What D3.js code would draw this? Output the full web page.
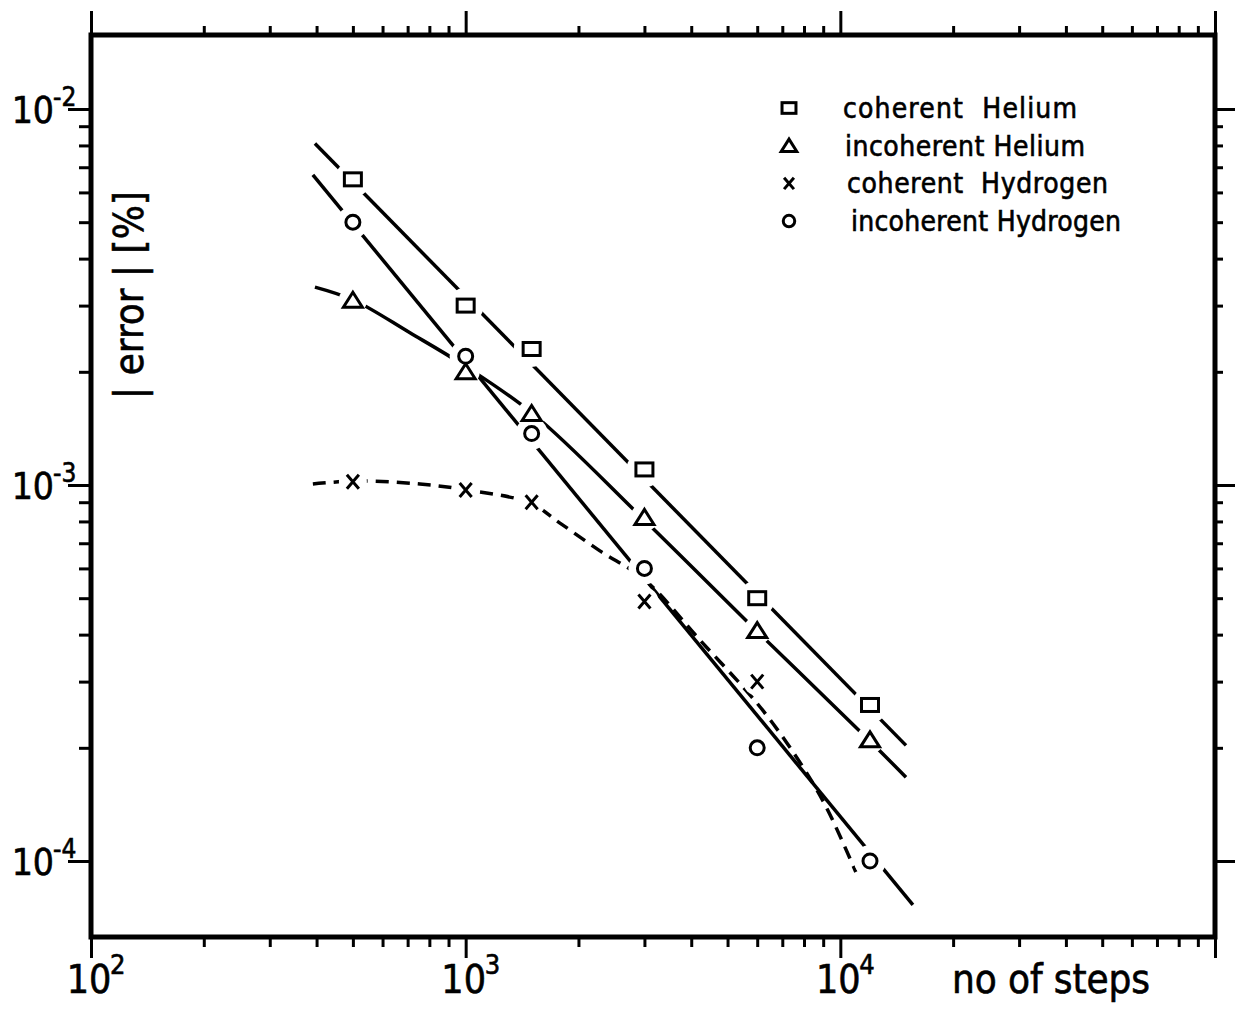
<!DOCTYPE html>
<html>
<head>
<meta charset="utf-8">
<script src="https://cdnjs.cloudflare.com/ajax/libs/d3/7.8.5/d3.min.js"></script>
<style>
  body { margin: 0; background: #fff; }
  svg text { font-family: "DejaVu Sans Condensed", "DejaVu Sans", sans-serif; fill: #000; stroke: #000; stroke-width: 0.6px; white-space: pre; }
</style>
</head>
<body>
<div id="viz"></div>
<script>
// measured points: no of steps vs |error| [%]
var steps = [500, 1000, 1500, 3000, 6000, 12000];
var coherentHelium = [6.5e-3, 3.0e-3, 2.3e-3, 1.1e-3, 5.0e-4, 2.6e-4];
var incoherentHelium = [3.1e-3, 2.0e-3, 1.55e-3, 8.2e-4, 4.1e-4, 2.1e-4];
var coherentHydrogen = [1.02e-3, 9.7e-4, 9.0e-4, 4.9e-4, 3.0e-4];
var incoherentHydrogen = [5.0e-3, 2.2e-3, 1.37e-3, 6.0e-4, 2.0e-4, 1.0e-4];

// hand drawn fit curves
var fitCohHeX = [396, 14970];
var fitCohHeY = [8.1e-3, 2.03e-4];
var fitIncHeX = [396, 503, 710, 990, 1520, 2950, 6030, 12140, 14970];
var fitIncHeY = [3.36e-3, 3.1e-3, 2.54e-3, 2.08e-3, 1.54e-3, 8.2e-4, 4.06e-4, 2.06e-4, 1.67e-4];
var fitCohHX = [391, 513, 755, 1008, 1484, 1785, 2282, 3009, 4220, 5990, 7200, 8450, 9380, 11000];
var fitCohHY = [1.006e-3, 1.025e-3, 1.006e-3, 9.7e-4, 8.96e-4, 7.92e-4, 6.68e-4, 5.59e-4, 3.87e-4, 2.63e-4, 2.06e-4, 1.61e-4, 1.33e-4, 9.35e-5];
var fitIncHX = [391, 15620];
var fitIncHY = [6.68e-3, 7.64e-5];

var legendLabels = ["coherent  Helium", "incoherent Helium", "coherent  Hydrogen", "incoherent Hydrogen"];
var xMajor = [1e2, 1e3, 1e4, 1e5];
var xExponents = ["2", "3", "4"];
var yMajor = [1e-2, 1e-3, 1e-4];
var yExponents = ["-2", "-3", "-4"];
var xTitle = "no of steps";
var yTitle = "| error | [%]";

var width = 1236,
    height = 1012,
    frameL = 91, frameR = 1215, frameT = 35, frameB = 937;

var zip = function(xs, ys) { return ys.map(function(v, i) { return [xs[i], v]; }); };

var series = [
  { name: legendLabels[0], marker: "square", points: zip(steps, coherentHelium), fit: zip(fitCohHeX, fitCohHeY), dash: null },
  { name: legendLabels[1], marker: "triangle", points: zip(steps, incoherentHelium), fit: zip(fitIncHeX, fitIncHeY), dash: null },
  { name: legendLabels[2], marker: "cross", points: zip(steps, coherentHydrogen), fit: zip(fitCohHX, fitCohHY), dash: "13,8" },
  { name: legendLabels[3], marker: "circle", points: zip(steps, incoherentHydrogen), fit: zip(fitIncHX, fitIncHY), dash: null }
];

var x = d3.scaleLog()
  .domain([1e2, 1e5])
  .range([frameL, frameR]);

var y = d3.scaleLog()
  .domain([Math.pow(10, -4.2021), Math.pow(10, -1.8032)])
  .range([frameB, frameT]);

// minor ticks 2..9 in each decade
function minors(lo, hi) {
  var out = [];
  for (var e = lo; e < hi; e++)
    for (var k = 2; k <= 9; k++) out.push(k * Math.pow(10, e));
  return out;
}
var xMinor = minors(2, 5);
var yMinor = minors(-4, -2);

var svg = d3.select("#viz").append("svg")
  .attr("width", width)
  .attr("height", height);

svg.append("rect").attr("width", width).attr("height", height).attr("fill", "#fff");

function addAxis(axis, tx, ty) {
  var g = svg.append("g")
    .attr("transform", "translate(" + tx + "," + ty + ")")
    .call(axis.tickFormat(""));
  g.select(".domain").remove();
  g.selectAll(".tick line").attr("stroke", "#000").attr("stroke-width", 3);
  return g;
}

addAxis(d3.axisBottom(x).tickValues(xMinor).tickSize(10), 0, frameB);
addAxis(d3.axisBottom(x).tickValues(xMajor).tickSize(21), 0, frameB);
addAxis(d3.axisTop(x).tickValues(xMinor).tickSize(9), 0, frameT);
addAxis(d3.axisTop(x).tickValues(xMajor).tickSize(24), 0, frameT);
addAxis(d3.axisLeft(y).tickValues(yMinor).tickSize(12), frameL, 0);
addAxis(d3.axisLeft(y).tickValues(yMajor).tickSize(23), frameL, 0);
addAxis(d3.axisRight(y).tickValues(yMinor).tickSize(8), frameR, 0);
addAxis(d3.axisRight(y).tickValues(yMajor).tickSize(20), frameR, 0);

svg.append("rect")
  .attr("x", frameL)
  .attr("y", frameT)
  .attr("width", frameR - frameL)
  .attr("height", frameB - frameT)
  .attr("fill", "none")
  .attr("stroke", "#000")
  .attr("stroke-width", 5);

// tick labels as 10 with raised exponent
yMajor.forEach(function(v, i) {
  svg.append("text")
    .attr("x", 54).attr("y", y(v) + 14)
    .attr("text-anchor", "end")
    .style("font-size", "37px")
    .text("10");
  svg.append("text")
    .attr("x", 53).attr("y", y(v) - 3)
    .style("font-size", "26px")
    .text(yExponents[i]);
});

xExponents.forEach(function(e, i) {
  var px = x(xMajor[i]);
  svg.append("text")
    .attr("x", px - 2).attr("y", 993)
    .attr("text-anchor", "middle")
    .style("font-size", "39px")
    .text("10");
  svg.append("text")
    .attr("x", px + 19).attr("y", 974)
    .style("font-size", "27px")
    .text(e);
});

svg.append("text")
  .attr("x", 952).attr("y", 993)
  .attr("textLength", 198)
  .style("font-size", "40px")
  .text(xTitle);

svg.append("text")
  .attr("transform", "translate(143,295) rotate(-90)")
  .attr("text-anchor", "middle")
  .style("font-size", "40px")
  .text(yTitle);

// fit curves
var line = d3.line()
  .x(function(d) { return x(d[0]); })
  .y(function(d) { return y(d[1]); })
  .curve(d3.curveCatmullRom.alpha(0.5));

svg.selectAll(".fit")
  .data(series)
  .enter()
  .append("path")
    .attr("class", "fit")
    .attr("d", function(d) { return line(d.fit); })
    .attr("fill", "none")
    .attr("stroke", "#000")
    .attr("stroke-width", 3.5)
    .attr("stroke-dasharray", function(d) { return d.dash; });

var haloSize = { square: 18, triangle: 14, circle: 16, cross: 14 };

function drawMarker(g, type, s) {
  var m;
  if (type == "square")
    m = g.append("rect").attr("x", -8.5 * s).attr("y", -6.5 * s).attr("width", 17 * s).attr("height", 13 * s);
  else if (type == "triangle")
    m = g.append("path").attr("d", "M" + (-9.5 * s) + "," + (7 * s) + "L" + (9.5 * s) + "," + (7 * s) + "L0," + (-8 * s) + "Z");
  else if (type == "circle")
    m = g.append("circle").attr("r", 7 * s);
  else
    m = g.append("path").attr("d", "M" + (-6 * s) + "," + (-7 * s) + "L" + (6 * s) + "," + (7 * s) +
                                   "M" + (-6 * s) + "," + (7 * s) + "L" + (6 * s) + "," + (-7 * s));
  m.attr("fill", type == "cross" ? "none" : "#fff")
   .attr("stroke", "#000")
   .attr("stroke-width", 3)
   .attr("stroke-linejoin", "miter");
}

// white halos break the curves around each point
series.forEach(function(s) {
  svg.selectAll(null)
    .data(s.points)
    .enter()
    .append("circle")
      .attr("cx", function(d) { return x(d[0]); })
      .attr("cy", function(d) { return y(d[1]); })
      .attr("r", haloSize[s.marker])
      .attr("fill", "#fff");
});

series.forEach(function(s) {
  s.points.forEach(function(d) {
    var g = svg.append("g").attr("transform", "translate(" + x(d[0]) + "," + y(d[1]) + ")");
    drawMarker(g, s.marker, 1);
  });
});

// legend (text start and width follow the lettering of the original)
var legendTextX = [843, 845, 847, 851],
    legendTextW = [234, 240, 261, 270];
var legend = svg.append("g");
series.forEach(function(s, i) {
  var ly = 108 + i * 37.7;
  var g = legend.append("g").attr("transform", "translate(789," + ly + ")");
  drawMarker(g, s.marker, 0.82);
  legend.append("text")
    .attr("x", legendTextX[i]).attr("y", ly + 10)
    .attr("textLength", legendTextW[i])
    .style("font-size", "28px")
    .text(s.name);
});
</script>
</body>
</html>
